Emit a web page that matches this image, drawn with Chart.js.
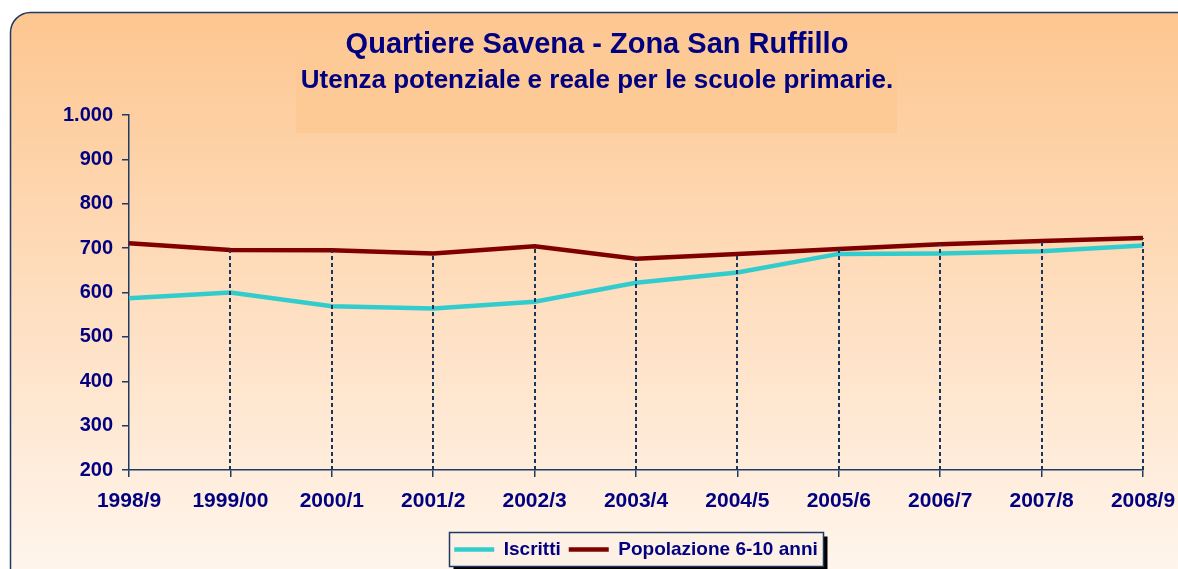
<!DOCTYPE html>
<html>
<head>
<meta charset="utf-8">
<script src="https://cdn.jsdelivr.net/npm/chart.js@4/dist/chart.umd.min.js"></script>
<style>
  html, body { margin: 0; padding: 0; background: #ffffff; }
  #wrap { width: 1178px; height: 569px; }
</style>
</head>
<body>
<div id="wrap"><canvas id="c" width="1178" height="569"></canvas></div>
<script>
const categories = ['1998/9', '1999/00', '2000/1', '2001/2', '2002/3', '2003/4', '2004/5', '2005/6', '2006/7', '2007/8', '2008/9'];
const iscritti = [587, 600, 569, 564, 579, 622, 645, 687, 688, 693, 706];
const popolazione = [711, 696, 695, 688, 704, 676, 687, 698, 709, 716, 723];
const yTicks = [200, 300, 400, 500, 600, 700, 800, 900, 1000];
const titleText = 'Quartiere Savena - Zona San Ruffillo';
const subtitleText = 'Utenza potenziale e reale per le scuole primarie.';
const seriesNames = ['Iscritti', 'Popolazione 6-10 anni'];

const NAVY = '#000080';
const AXIS = '#1f3b64';
const FONT = '"Liberation Sans", Arial, sans-serif';

function fmt(v) {
  return String(v).replace(/\B(?=(\d{3})+(?!\d))/g, '.');
}

const backgroundPlugin = {
  id: 'bg',
  beforeDraw(chart) {
    const ctx = chart.ctx;
    const W = chart.width, H = chart.height;
    ctx.save();
    ctx.fillStyle = '#ffffff';
    ctx.fillRect(0, 0, W, H);
    const x = 10.5, y = 12.5, w = 1220, h = 620, r = 20;
    const g = ctx.createLinearGradient(0, 12, 0, H);
    g.addColorStop(0, '#fdc690');
    g.addColorStop(1, '#fff5ec');
    ctx.beginPath();
    ctx.moveTo(x + r, y);
    ctx.lineTo(x + w, y);
    ctx.lineTo(x + w, y + h);
    ctx.lineTo(x, y + h);
    ctx.lineTo(x, y + r);
    ctx.arcTo(x, y, x + r, y, r);
    ctx.closePath();
    ctx.fillStyle = g;
    ctx.fill();
    ctx.lineWidth = 1.5;
    ctx.strokeStyle = AXIS;
    ctx.stroke();
    // faint title box
    ctx.fillStyle = '#fdc995';
    ctx.fillRect(296, 40, 601, 93);
    // legend frame
    const lg = chart.legend;
    if (lg && lg.legendHitBoxes && lg.legendHitBoxes.length) {
      const hb = lg.legendHitBoxes;
      const first = hb[0], last = hb[hb.length - 1];
      const lx = Math.round(first.left) - 4.5;
      const rx = Math.round(last.left + last.width) + 5.5;
      const ty = Math.round(first.top) - 7.5;
      const by = Math.round(first.top + first.height) + 7.5;
      ctx.fillStyle = '#000000';
      ctx.fillRect(lx + 4, ty + 4, rx - lx, by - ty);
      ctx.fillStyle = '#fdf0e4';
      ctx.fillRect(lx, ty, rx - lx, by - ty);
      ctx.lineWidth = 1.5;
      ctx.strokeStyle = AXIS;
      ctx.strokeRect(lx, ty, rx - lx, by - ty);
    }
    ctx.restore();
  }
};

const dropLinesPlugin = {
  id: 'droplines',
  afterDatasetsDraw(chart) {
    const ctx = chart.ctx;
    const metas = chart.data.datasets.map((d, i) => chart.getDatasetMeta(i));
    const bottom = chart.chartArea.bottom;
    ctx.save();
    ctx.strokeStyle = '#17375e';
    ctx.lineWidth = 2;
    ctx.setLineDash([4, 3]);
    for (let j = 1; j < categories.length; j++) {
      let top = Infinity, x = null;
      metas.forEach(m => {
        const p = m.data[j];
        if (p) { top = Math.min(top, p.y); x = p.x; }
      });
      if (x === null) continue;
      ctx.beginPath();
      ctx.moveTo(Math.round(x), bottom);
      ctx.lineTo(Math.round(x), top);
      ctx.stroke();
    }
    ctx.restore();
  }
};

new Chart(document.getElementById('c'), {
  type: 'line',
  data: {
    labels: categories,
    datasets: [
      {
        label: seriesNames[0],
        data: iscritti,
        borderColor: '#33cccc',
        backgroundColor: '#33cccc',
        borderWidth: 4.5,
        pointRadius: 0,
        tension: 0,
        fill: false
      },
      {
        label: seriesNames[1],
        data: popolazione,
        borderColor: '#800000',
        backgroundColor: '#800000',
        borderWidth: 4.5,
        pointRadius: 0,
        tension: 0,
        fill: false
      }
    ]
  },
  options: {
    responsive: false,
    animation: false,
    layout: { padding: { left: 16, right: 0, top: 0, bottom: 0 } },
    plugins: {
      title: {
        display: true,
        text: titleText,
        color: NAVY,
        font: { family: FONT, size: 29, weight: 'bold' },
        padding: { top: 28, bottom: 2 }
      },
      subtitle: {
        display: true,
        text: subtitleText,
        color: NAVY,
        font: { family: FONT, size: 26, weight: 'bold' },
        padding: { top: 0, bottom: 19 }
      },
      legend: {
        display: true,
        position: 'bottom',
        fullSize: false,
        labels: {
          color: NAVY,
          font: { family: FONT, size: 19, weight: 'bold' },
          usePointStyle: true,
          pointStyle: 'line',
          pointStyleWidth: 40,
          padding: 8
        }
      },
      tooltip: { enabled: false }
    },
    scales: {
      x: {
        type: 'category',
        offset: false,
        grid: { display: true, drawOnChartArea: false, drawTicks: true, tickLength: 7, color: AXIS, lineWidth: 1.5 },
        border: { display: true, color: AXIS, width: 1.5 },
        ticks: {
          color: NAVY,
          font: { family: FONT, size: 21, weight: 'bold' },
          padding: 12,
          maxRotation: 0,
          autoSkip: false
        },
        afterFit(scale) {
          scale.height = 62;
          scale.paddingLeft = 0;
          scale.paddingRight = 0;
        }
      },
      y: {
        type: 'linear',
        min: 200,
        max: 1000,
        afterBuildTicks(scale) { scale.ticks = yTicks.map(v => ({ value: v })); },
        grid: { display: true, drawOnChartArea: false, drawTicks: true, tickLength: 7, color: AXIS, lineWidth: 1.5 },
        border: { display: true, color: AXIS, width: 1.5 },
        ticks: {
          color: NAVY,
          font: { family: FONT, size: 20, weight: 'bold' },
          padding: 9,
          callback: v => fmt(v)
        },
        afterFit(scale) { scale.width = 113; }
      },
      yr: {
        type: 'linear',
        position: 'right',
        display: true,
        grid: { display: false },
        border: { display: false },
        ticks: { display: false },
        afterFit(scale) { scale.width = 35; }
      }
    }
  },
  plugins: [backgroundPlugin, dropLinesPlugin]
});
</script>
</body>
</html>
